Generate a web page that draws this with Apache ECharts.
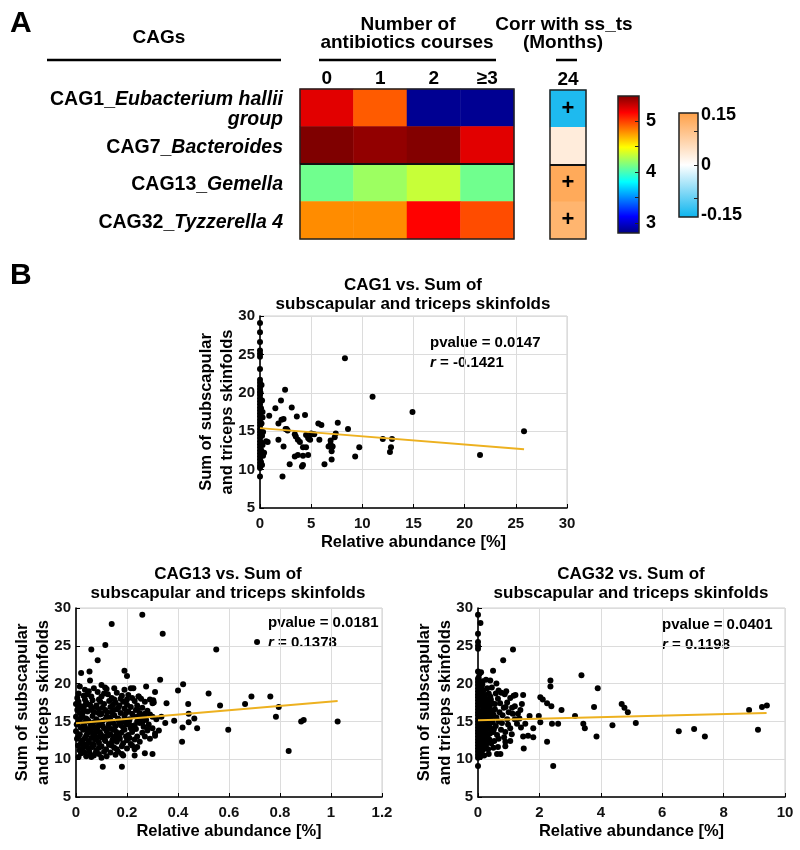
<!DOCTYPE html>
<html><head><meta charset="utf-8">
<script src="https://cdn.jsdelivr.net/npm/echarts@6/dist/echarts.min.js"></script>
<style>html,body{margin:0;padding:0;background:#fff}#c{width:800px;height:850px}</style>
</head><body><div id="c"></div>
<script>
const FONT = '"Liberation Sans", Arial, sans-serif';

// ---------- Panel A data ----------
const cagLabels = ['CAG1', 'CAG7', 'CAG13', 'CAG32'];
const cagNames = [['CAG1_', 'Eubacterium hallii', 'group'], ['CAG7_', 'Bacteroides'], ['CAG13_', 'Gemella'], ['CAG32_', 'Tyzzerella 4']];
const courseLabels = ['0', '1', '2', '≥3'];
const abundanceLog = [   // rows: CAG1, CAG7, CAG13, CAG32 ; cols: 0,1,2,>=3 courses
  [5.24, 4.92, 2.85, 2.85],
  [5.50, 5.45, 5.49, 5.24],
  [4.11, 4.23, 4.34, 4.11],
  [4.79, 4.79, 5.16, 4.96]
];
const corrMonths = ['24'];
const corrValues = [-0.1421, 0.03, 0.1378, 0.1198];
const corrSig = ['+', '', '+', '+'];
const jetRange = [2.8, 5.5];
const jetLabels = [3, 4, 5];
const jetTickMarks = [3, 3.5, 4, 4.5, 5];
const corrRange = [-0.155, 0.155];
const corrLabels = [-0.15, 0, 0.15];
const corrTickMarks = [-0.1, 0, 0.1];

// ---------- Panel B data ----------
const cag1Points = [
  [0,29.1],[0,27.9],[0,26.6],[0,25.5],[0,25.1],[0,24.7],[0,23.1],[0,21.7],[0,21.3],[0,20.9],[0,20.5],[0,20.1],
  [0,19.7],[0,19.3],[0,18.9],[0,18.5],[0,18.1],[0,17.7],[0,17.3],[0,16.9],[0,16.5],[0,16.1],[0,15.7],[0,15.3],
  [0,14.9],[0,14.5],[0,14.1],[0,13.7],[0,13.3],[0,12.9],[0,12.5],[0,12.1],[0,11.7],[0,11.3],[0,10.9],[0,10.5],
  [0,10.2],[0,9.1],[0.1,15.0],[0.15,13.5],[0.2,12.3],[0.1,11.0],[0.25,16.8],[0.1,18.0],[0.05,20.0],[0.1,12.6],[0.2,14.4],
  [0.2,19.0],[0.25,17.5],[0.15,16.0],[0.3,14.9],[0.25,13.2],[0.3,11.8],[0.2,10.6],[0.15,21.0],
  [0.4,12.2],[0.75,13.6],[0.9,17.0],[1.5,18.0],[2.05,19.0],[2.45,20.4],[3.1,18.1],[3.6,16.9],[4.4,17.1],[1.8,16.0],
  [2.1,16.5],[2.3,16.6],[2.5,15.3],[2.7,15.1],[0.6,13.7],[1.8,13.9],[2.3,13.0],[2.9,10.7],[2.2,9.1],[3.4,14.6],
  [3.5,14.3],[3.7,13.9],[3.9,13.6],[4.2,12.9],[4.5,12.9],[3.7,11.9],[4.2,11.8],[4.7,11.9],[4.2,10.6],[4.5,14.5],
  [4.7,14.1],[5.0,14.7],[5.3,14.6],[4.8,14.0],[5.7,16.0],[6.0,15.8],[5.8,13.9],[6.3,10.7],[6.7,13.0],[6.9,13.3],
  [7.1,13.0],[7.0,12.4],[7.0,11.3],[7.3,14.2],[7.4,14.7],[7.6,16.1],[8.6,15.3],[8.3,24.5],[9.7,12.9],[9.3,11.7],
  [11.0,19.5],[12.0,14.0],[12.9,14.0],[12.8,12.9],[12.7,12.3],[14.9,17.5],[21.5,11.9],[25.8,15.0],[6.9,13.8],
  [2.6,15.3],[3.4,11.7],[4.1,10.4],[5.05,14.65],[4.9,13.9]
];
const cag1Fit = [[0, 15.4], [25.8, 12.65]];
const cag1Stats = ['0.0147', '-0.1421'];

const cag13Points = [
  [0.26,29.1],[0.14,27.9],[0.34,26.6],[0.71,25.5],[0.55,24.5],[0.06,24.5],[0.115,25.1],[0.085,23.1],[0.02,21.4],
  [0.19,21.7],[0.2,21.0],[0.33,20.5],[0.42,19.9],[0.4,19.1],[0.52,18.7],[0.31,18.9],[0.275,19.6],[0.355,17.4],
  [0.3,17.4],[0.44,17.3],[0.565,17.1],[0.663,17.3],[0.688,18.3],[0.762,18.3],[0.795,16.9],[0.784,15.6],[0.883,15.0],
  [0.893,15.2],[1.026,15.0],[0.834,11.1],[0.597,13.9],[0.475,14.1],[0.418,14.2],[0.416,12.3],[0.442,16.0],[0.464,15.4],
  [0.442,14.9],[0.385,15.1],[0.35,14.8],[0.335,15.6],[0.325,13.8],[0.31,13.1],[0.3,10.7],[0.27,10.8],[0.23,11.3],
  [0.23,10.5],[0.18,10.7],[0.18,9.0],[0.105,9.0],[0.09,10.7],[0.215,19.4],[0.246,18.3],[0.303,17.8],[0.053,21.6],
  [0.055,20.4],[0.035,19.2],[0.114,19.5],
  [0.005,18.1],[0.01,17.6],[0.03,18.4],[0.05,19.0],[0.045,18.6],[0.07,19.4],[0.085,18.9],[0.1,18.3],[0.12,19.3],
  [0.125,18.6],[0.14,18.1],[0.16,18.8],[0.175,18.0],[0.19,19.2],[0.205,18.5],[0.225,19.4],[0.245,18.3],[0.23,17.7],
  [0.255,18.0],[0.27,17.6],[0.29,17.9],[0.305,17.5],
  [0.0,17.3],[0.02,17.0],[0.04,17.5],[0.055,17.2],[0.065,17.8],[0.08,17.1],[0.095,17.6],[0.11,17.3],[0.13,17.7],
  [0.145,17.2],[0.155,17.5],[0.17,17.1],[0.185,17.6],[0.2,17.2],[0.215,16.9],[0.24,17.1],[0.26,16.8],[0.28,16.4],
  [0.005,16.5],[0.015,16.1],[0.03,16.7],[0.045,16.3],[0.06,16.8],[0.07,16.2],[0.09,16.6],[0.1,16.0],[0.115,16.5],
  [0.135,16.9],[0.14,16.2],[0.16,16.6],[0.175,16.1],[0.19,16.7],[0.205,16.3],[0.22,16.0],[0.235,16.5],[0.25,16.1],
  [0.27,16.0],[0.29,15.9],
  [0.0,15.6],[0.012,15.2],[0.025,15.8],[0.04,15.4],[0.05,15.0],[0.065,15.7],[0.08,15.3],[0.095,15.9],[0.105,15.1],
  [0.12,15.6],[0.135,15.2],[0.15,15.8],[0.165,15.4],[0.18,15.0],[0.19,15.6],[0.21,15.3],[0.225,15.7],[0.24,15.0],
  [0.255,15.5],[0.275,15.2],[0.3,15.6],[0.315,15.3],
  [0.003,14.6],[0.018,14.2],[0.03,14.8],[0.042,14.0],[0.058,14.5],[0.07,14.9],[0.085,14.3],[0.1,14.7],[0.11,14.1],
  [0.128,14.6],[0.14,14.0],[0.155,14.4],[0.17,14.8],[0.185,14.2],[0.2,14.6],[0.215,14.1],[0.23,14.5],[0.25,14.8],
  [0.265,14.3],[0.285,14.6],[0.3,14.1],
  [0.0,13.7],[0.015,13.3],[0.028,13.9],[0.04,13.1],[0.055,13.6],[0.068,13.2],[0.08,13.8],[0.095,13.4],[0.108,13.0],
  [0.12,13.7],[0.135,13.3],[0.15,13.9],[0.162,13.1],[0.178,13.5],[0.19,13.9],[0.205,13.2],[0.22,13.6],[0.24,13.0],
  [0.26,13.5],[0.28,13.8],[0.31,13.4],
  [0.004,12.7],[0.02,12.2],[0.035,12.8],[0.048,12.4],[0.062,12.0],[0.075,12.6],[0.09,12.2],[0.1,12.9],[0.115,12.4],
  [0.13,12.0],[0.145,12.7],[0.16,12.3],[0.17,12.9],[0.185,12.1],[0.2,12.5],[0.215,12.0],[0.23,12.6],[0.25,12.3],
  [0.008,11.8],[0.025,11.4],[0.04,11.9],[0.052,11.1],[0.065,11.6],[0.08,11.2],[0.1,11.7],[0.118,11.3],[0.13,11.9],
  [0.15,11.5],[0.165,11.0],[0.18,11.7],[0.2,11.4],[0.22,11.8],[0.24,11.6],
  [0.01,10.3],[0.02,10.8],[0.04,10.4],[0.055,10.7],[0.07,10.5],[0.12,10.4],[0.155,10.6],[0.185,10.5],
  [0.01,14.9],[0.022,15.5],[0.034,14.4],[0.046,15.2],[0.058,13.9],[0.072,14.2],[0.088,15.0],[0.092,13.6],[0.104,14.4],
  [0.116,15.3],[0.124,14.0],[0.132,15.5],[0.146,14.8],[0.158,13.6],[0.168,15.1],[0.176,14.5],[0.194,14.9],[0.208,15.0],
  [0.218,14.4],[0.012,16.8],[0.028,16.3],[0.038,17.2],[0.062,16.5],[0.078,16.9],[0.088,16.1],[0.104,16.8],[0.122,16.2],
  [0.148,16.5],[0.166,16.8],[0.196,16.1],[0.01,13.0],[0.026,12.5],[0.044,13.4],[0.06,12.8],[0.074,13.5],[0.086,12.9],
  [0.098,13.2],[0.112,12.6],[0.124,13.1],[0.142,12.4],[0.154,13.0],[0.172,12.7],[0.196,13.0],[0.21,12.8],[0.014,11.2],
  [0.03,11.9],[0.046,11.5],[0.07,11.9],[0.09,11.5],[0.11,11.0],[0.14,11.8],[0.16,11.3],[0.033,10.9],[0.06,10.3],
  [0.078,10.9],[0.1,10.2],[0.135,10.9],[0.01,18.7],[0.035,17.9],[0.06,18.3],[0.09,17.9],[0.11,18.7],[0.15,17.9],
  [0.18,18.4],[0.2,17.9],[0.22,18.1],[0.015,19.6],[0.1,19.8],[0.15,19.4],[0.24,16.6],[0.26,14.9],[0.27,13.0],
  [0.29,12.7],[0.235,14.0],[0.245,15.7],[0.27,15.5],[0.28,14.0]
];
const cag13Fit = [[0, 14.75], [1.026, 17.7]];
const cag13Stats = ['0.0181', '0.1378'];

const cag32Points = [
  [0,29.1],[0.08,28.0],[0,26.6],[0,25.5],[0,25.0],[0,24.6],[0,21.6],[0,20.6],[0,20.2],[0,19.8],[0,19.4],[0,19.0],
  [0,18.6],[0,18.2],[0,17.8],[0,17.4],[0,17.0],[0,16.6],[0,16.2],[0,15.8],[0,15.4],[0,15.0],[0,14.6],[0,14.2],
  [0,13.8],[0,13.4],[0,13.0],[0,12.6],[0,12.2],[0,11.8],[0,11.4],[0,11.0],[0,10.6],[0,10.2],[0,9.1],
  [0.02,20.8],[0.03,19.6],[0.02,18.4],[0.03,17.2],[0.02,16.0],[0.03,14.8],[0.02,13.6],[0.03,12.4],[0.02,11.2],[0.03,10.4],
  [0.2,16.5],[0.35,15.6],[0.12,13.1],[0.25,12.4],[0.33,11.3],[0.4,14.0],[0.15,18.4],[0.08,19.4],
  [0.08,20.1],[0.12,19.6],[0.15,20.3],[0.1,18.9],[0.18,19.1],[0.22,18.5],[0.3,19.4],[0.35,18.7],[0.06,18.2],
  [0.14,17.9],[0.2,17.5],[0.26,18.0],[0.33,17.6],[0.42,17.9],[0.09,17.2],[0.17,16.8],[0.24,17.1],[0.3,16.6],
  [0.38,17.0],[0.45,16.4],[0.07,16.3],[0.13,15.9],[0.21,16.2],[0.28,15.8],[0.36,16.1],[0.44,15.6],[0.5,15.9],
  [0.1,15.4],[0.18,15.1],[0.25,15.5],[0.32,15.0],[0.4,15.3],[0.48,14.9],[0.06,14.7],[0.14,14.3],[0.22,14.6],
  [0.29,14.1],[0.37,14.5],[0.45,14.0],[0.09,13.7],[0.16,13.2],[0.24,13.6],[0.31,13.0],[0.39,13.4],[0.08,12.7],
  [0.15,12.3],[0.22,12.8],[0.3,12.2],[0.37,12.6],[0.1,11.7],[0.18,11.3],[0.26,11.8],[0.12,10.9],[0.2,10.5],
  [0.07,10.3],[0.14,19.9],[0.26,20.5],[0.05,21.3],[0.2,13.9],[0.33,14.8],[0.11,14.0],[0.27,16.9],[0.4,18.3],
  [0.47,17.4],[0.04,12.0],[0.06,11.1],[0.17,12.0],[0.28,12.9],[0.5,13.6],[0.43,12.1],
  [0.49,21.7],[0.4,20.4],[0.67,19.1],[0.87,18.6],[1.16,18.4],[1.22,18.5],[1.47,18.5],[1.05,18.1],[1.43,17.3],
  [0.84,16.8],[0.9,16.9],[1.11,16.8],[1.38,16.5],[1.13,16.0],[0.78,14.8],[1.05,14.1],[0.89,13.6],[0.62,13.2],
  [0.67,12.7],[0.89,12.3],[0.89,11.7],[1.05,12.4],[1.47,13.0],[1.27,14.7],[1.54,14.7],[0.62,10.7],[0.73,10.7],
  [0.35,10.7],[0.6,15.5],[0.7,16.2],[0.55,17.3],[0.65,18.0],[0.95,15.3],[1.2,15.3],[0.58,14.4],[0.75,13.9],
  [0.53,12.4],[0.95,17.5],[1.3,16.0],[0.82,23.1],[1.14,24.5],[0.1,21.5],[0.6,20.0],
  [0.55,16.6],[0.72,17.4],[0.8,15.8],[0.98,14.6],[1.1,13.3],[1.35,15.4],[0.68,15.0],[0.85,12.9],[1.2,17.0],
  [0.58,18.7],[0.52,14.0],[0.76,18.8],[1.0,16.2],[1.4,14.2],[0.5,11.5],[0.65,11.6],[0.45,19.5],[0.92,19.0],
  [1.63,13.1],[1.8,12.9],[1.49,11.4],[1.68,15.7],[1.98,15.7],[2.03,14.9],[1.8,14.1],[2.41,14.7],[2.61,14.7],
  [2.25,12.3],[2.45,9.1],[2.03,18.2],[2.11,17.9],[2.25,17.4],[2.39,17.0],[2.72,16.5],[2.36,20.4],[2.36,19.6],
  [3.37,21.1],[3.9,19.4],[3.78,16.9],[3.16,15.7],[3.43,14.7],[3.48,14.1],[3.86,13.0],[4.68,17.3],[4.77,16.8],
  [4.88,16.2],[4.38,14.5],[5.14,14.8],[6.54,13.7],[7.04,14.0],[7.39,13.0],[8.83,16.5],[9.25,16.9],[9.41,17.1],[9.12,13.9]
];
const cag32Fit = [[0, 15.15], [9.4, 16.1]];
const cag32Stats = ['0.0401', '0.1198'];

const scatterTitles = ['CAG1 vs. Sum of\nsubscapular and triceps skinfolds', 'CAG13 vs. Sum of\nsubscapular and triceps skinfolds', 'CAG32 vs. Sum of\nsubscapular and triceps skinfolds'];
const xRanges = [[0, 30, 5], [0, 1.2, 0.2], [0, 10, 2]];
const yRange = [5, 30, 5];

// ---------- build ----------
const jet = ['#00007f','#0000ff','#007fff','#00ffff','#7fff7f','#ffff00','#ff7f00','#ff0000','#7f0000'];
const corrColors = ['#0ab4ee', '#ffffff', '#ff9f45'];
function vGrad(colors) {
  return { type: 'linear', x: 0, y: 1, x2: 0, y2: 0,
    colorStops: colors.map((c, i) => ({ offset: i / (colors.length - 1), color: c })) };
}
const heatData = [];
abundanceLog.forEach((row, r) => row.forEach((v, c) => heatData.push([c, r, v])));
const corrData = corrValues.map((v, r) => [0, r, v]);
const sep = ['rgba(0,0,0,0)', 'rgba(0,0,0,0)', '#111', 'rgba(0,0,0,0)', 'rgba(0,0,0,0)'];

const boldTxt = (size) => ({ fontFamily: FONT, fontWeight: 'bold', fontSize: size, color: '#000' });

const scatterGrids = [
  { left: 260, top: 316, width: 307, height: 192 },
  { left: 76, top: 608, width: 306, height: 189 },
  { left: 478, top: 608, width: 307, height: 189 }
];

const grids = [
  { left: 300, top: 89, width: 214, height: 150, show: true, borderColor: '#222', borderWidth: 1.5, z: 10 },
  { left: 550, top: 90, width: 36, height: 149, show: true, borderColor: '#222', borderWidth: 1.5, z: 10 },
  { left: 618, top: 96, width: 21, height: 137, show: true, borderColor: '#222', borderWidth: 1.5, backgroundColor: vGrad(jet), z: 10 },
  { left: 679, top: 113, width: 19, height: 104, show: true, borderColor: '#222', borderWidth: 1.5, backgroundColor: vGrad(corrColors), z: 10 }
].concat(scatterGrids.map(g => Object.assign({ show: true, borderColor: '#cfcfcf', borderWidth: 1 }, g)));
grids.forEach(g => { g.outerBoundsMode = 'none'; g.containLabel = false; });

const xAxes = [
  { gridIndex: 0, type: 'category', data: courseLabels, position: 'top', axisLine: { show: false }, axisTick: { show: false },
    axisLabel: Object.assign({ margin: 1 }, boldTxt(19)), splitLine: { show: false } },
  { gridIndex: 1, type: 'category', data: corrMonths, position: 'top', axisLine: { show: false }, axisTick: { show: false },
    axisLabel: Object.assign({ margin: 1 }, boldTxt(19)), splitLine: { show: false } },
  { gridIndex: 2, type: 'value', show: false },
  { gridIndex: 3, type: 'value', show: false }
];
const yAxes = [
  { gridIndex: 0, type: 'category', data: cagLabels, inverse: true, axisLine: { show: false }, axisTick: { show: false }, z: 12,
    splitLine: { show: true, interval: 0, lineStyle: { color: sep, width: 2 } },
    axisLabel: { margin: 17, lineHeight: 20, padding: [4, 0, 0, 0],
      formatter: (v, i) => { const n = cagNames[i]; return n.length === 3 ? `{b|${n[0]}}{i|${n[1]}}\n{i|${n[2]}}` : `{b|${n[0]}}{i|${n[1]}}`; },
      rich: { b: Object.assign({ lineHeight: 20 }, boldTxt(19.5)), i: Object.assign({ fontStyle: 'italic', lineHeight: 20 }, boldTxt(19.5)) } } },
  { gridIndex: 1, type: 'category', data: cagLabels, inverse: true, axisLine: { show: false }, axisTick: { show: false }, z: 12,
    splitLine: { show: true, interval: 0, lineStyle: { color: sep, width: 2 } }, axisLabel: { show: false } },
  { gridIndex: 2, type: 'value', min: jetRange[0], max: jetRange[1], position: 'right', z: 12,
    axisLine: { show: false, onZero: false }, splitLine: { show: false },
    axisTick: { show: true, inside: true, length: 4, customValues: jetTickMarks, lineStyle: { color: '#222', width: 1 } },
    axisLabel: Object.assign({ customValues: jetLabels, margin: 7 }, boldTxt(18)) },
  { gridIndex: 3, type: 'value', min: corrRange[0], max: corrRange[1], position: 'right', z: 12,
    axisLine: { show: false, onZero: false }, splitLine: { show: false },
    axisTick: { show: true, inside: true, length: 4, customValues: corrTickMarks, lineStyle: { color: '#222', width: 1 } },
    axisLabel: Object.assign({ customValues: corrLabels, margin: 3, formatter: v => String(v) }, boldTxt(18)) }
];

const nameStyle = Object.assign({ lineHeight: 21 }, boldTxt(16.5));
scatterGrids.forEach((g, k) => {
  const gi = 4 + k;
  xAxes.push({ gridIndex: gi, type: 'value', min: xRanges[k][0], max: xRanges[k][1], interval: xRanges[k][2],
    name: 'Relative abundance [%]', nameLocation: 'middle', nameGap: 24, nameTextStyle: nameStyle, nameMoveOverlap: false,
    axisLine: { show: true, onZero: false, lineStyle: { color: '#000', width: 1.6 } },
    axisTick: { show: true, inside: true, length: 4, lineStyle: { color: '#000' } },
    axisLabel: Object.assign({ margin: 8 }, boldTxt(15), { color: '#111' }),
    splitLine: { show: true, lineStyle: { color: '#dcdcdc', width: 1 } } });
  yAxes.push({ gridIndex: gi, type: 'value', min: yRange[0], max: yRange[1], interval: yRange[2],
    name: 'Sum of subscapular\nand triceps skinfolds', nameLocation: 'middle', nameGap: 22, nameTextStyle: nameStyle, nameMoveOverlap: false,
    axisLine: { show: true, onZero: false, lineStyle: { color: '#000', width: 1.6 } },
    axisTick: { show: true, inside: true, length: 4, lineStyle: { color: '#000' } },
    axisLabel: Object.assign({ margin: 5 }, boldTxt(15), { color: '#111' }),
    splitLine: { show: true, lineStyle: { color: '#dcdcdc', width: 1 } } });
});

const series = [
  { type: 'heatmap', xAxisIndex: 0, yAxisIndex: 0, data: heatData, itemStyle: { borderWidth: 0 }, emphasis: { disabled: true }, silent: true },
  { type: 'heatmap', xAxisIndex: 1, yAxisIndex: 1, data: corrData, itemStyle: { borderWidth: 0 }, emphasis: { disabled: true }, silent: true,
    label: { show: true, formatter: p => corrSig[p.data[1]], fontFamily: FONT, fontWeight: 'bold', fontSize: 22, color: '#000' } }
];
const pointSets = [cag1Points, cag13Points, cag32Points];
const fits = [cag1Fit, cag13Fit, cag32Fit];
pointSets.forEach((pts, k) => {
  series.push({ type: 'scatter', xAxisIndex: 4 + k, yAxisIndex: 4 + k, data: pts, symbolSize: 6,
    itemStyle: { color: '#000', opacity: 1 }, silent: true, z: 3 });
  series.push({ type: 'line', xAxisIndex: 4 + k, yAxisIndex: 4 + k, data: fits[k], symbol: 'none',
    lineStyle: { color: '#EDB120', width: 2 }, silent: true, z: 4 });
});

// text decorations
const statsPos = [[430, 343], [268, 623], [662, 625]];
const statsSets = [cag1Stats, cag13Stats, cag32Stats];
const titlePos = [[413, 294.5], [228, 584], [631, 584]];
const txt = (x, y, text, size, align, extra) => ({ type: 'text', x, y, silent: true,
  style: Object.assign({ text, font: `bold ${size}px ${FONT}`, fill: '#000', textAlign: align || 'center', align: align || 'center',
    textVerticalAlign: 'middle', verticalAlign: 'middle' }, extra || {}) });
const graphics = [
  txt(10, 24, 'A', 30, 'left'),
  txt(10, 276, 'B', 30, 'left'),
  txt(159, 38, 'CAGs', 19),
  txt(408, 25, 'Number of', 19),
  txt(407, 43, 'antibiotics courses', 19),
  txt(564, 25, 'Corr with ss_ts', 19),
  txt(563, 43, '(Months)', 19),
  { type: 'line', silent: true, shape: { x1: 47, y1: 60, x2: 281, y2: 60 }, style: { stroke: '#000', lineWidth: 2.5 } },
  { type: 'line', silent: true, shape: { x1: 319, y1: 60, x2: 496, y2: 60 }, style: { stroke: '#000', lineWidth: 2.5 } },
  { type: 'line', silent: true, shape: { x1: 556, y1: 60, x2: 577, y2: 60 }, style: { stroke: '#000', lineWidth: 2.5 } }
];
titlePos.forEach((p, k) => graphics.push(txt(p[0], p[1], scatterTitles[k], 17, 'center', { lineHeight: 19 })));
statsPos.forEach((p, k) => {
  graphics.push(txt(p[0], p[1], 'pvalue = ' + statsSets[k][0], 15, 'left'));
  graphics.push(txt(p[0], p[1] + 20, '{i|r}{n| = ' + statsSets[k][1] + '}', 15, 'left', {
    rich: { i: { font: `italic bold 15px ${FONT}`, fill: '#000' }, n: { font: `bold 15px ${FONT}`, fill: '#000' } } }));
});

const chart = echarts.init(document.getElementById('c'));
chart.setOption({
  animation: false,
  backgroundColor: '#fff',
  textStyle: { fontFamily: FONT },
  grid: grids,
  xAxis: xAxes,
  yAxis: yAxes,
  visualMap: [
    { type: 'continuous', show: false, min: jetRange[0], max: jetRange[1], dimension: 2, seriesIndex: 0, inRange: { color: jet } },
    { type: 'continuous', show: false, min: corrRange[0], max: corrRange[1], dimension: 2, seriesIndex: 1, inRange: { color: corrColors } }
  ],
  series,
  graphic: graphics
});
</script>
</body></html>
